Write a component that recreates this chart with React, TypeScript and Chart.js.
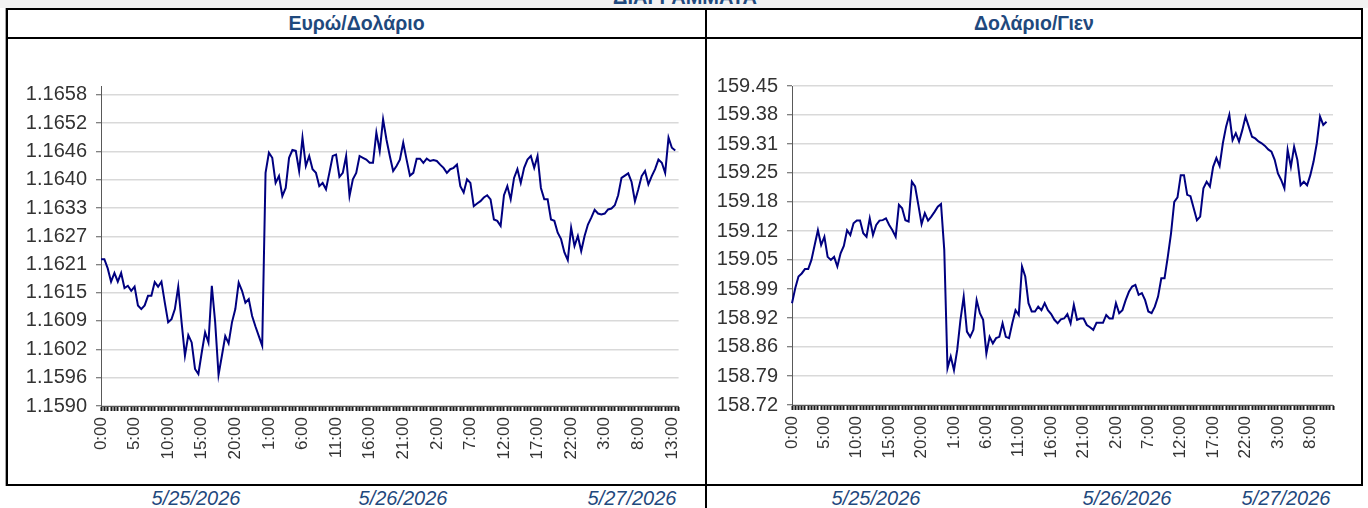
import React, { useEffect, useRef } from 'react';
import { Chart, registerables } from 'chart.js';

Chart.register(...registerables);

const FONT = "'Liberation Sans', Arial, sans-serif";
const LINE_COLOR = '#000080';
const TITLE_COLOR = '#1f497d';

// Euro / Dollar, half-hourly closes starting 5/25 0:00
const eurUsd = [
  1.16221, 1.16221, 1.16201, 1.16172, 1.16191, 1.16172, 1.16191, 1.16158, 1.16163, 1.16152,
  1.16161, 1.1612, 1.16112, 1.1612, 1.16141, 1.16141, 1.16171, 1.16161, 1.16172, 1.16126,
  1.16083, 1.1609, 1.16112, 1.16161, 1.16083, 1.1601, 1.16055, 1.16039, 1.15981, 1.1597,
  1.16017, 1.16061, 1.16039, 1.16163, 1.16083, 1.15968, 1.1601, 1.16053, 1.16037, 1.16083,
  1.16112, 1.1617, 1.16152, 1.16126, 1.16134, 1.16097, 1.16074, 1.16053, 1.16032, 1.1641,
  1.16454, 1.16443, 1.16388, 1.16403, 1.16359, 1.16377, 1.16443, 1.1646, 1.16458, 1.16414,
  1.16487, 1.16425, 1.16447, 1.16418, 1.1641, 1.16381, 1.16388, 1.16374, 1.1641, 1.16447,
  1.1645, 1.16401, 1.1641, 1.16447, 1.16359, 1.16396, 1.1641, 1.16447, 1.16443, 1.16439,
  1.16432, 1.16432, 1.16498, 1.16458, 1.16527, 1.16483, 1.16447, 1.16414, 1.16425, 1.16439,
  1.16476, 1.16439, 1.16404, 1.1641, 1.16441, 1.16441, 1.16432, 1.16441, 1.16436, 1.16438,
  1.16436, 1.16428, 1.16421, 1.1641, 1.16418, 1.16421, 1.16428, 1.16381, 1.16367, 1.16396,
  1.16388, 1.16337, 1.16343, 1.16348, 1.16356, 1.16361, 1.16352, 1.16308, 1.16305, 1.16294,
  1.16361, 1.16381, 1.16352, 1.16399, 1.16418, 1.16388, 1.16421, 1.16439, 1.16447, 1.16421,
  1.16447, 1.16377, 1.16352, 1.16352, 1.16308, 1.16305, 1.16279, 1.16265, 1.16236, 1.16219,
  1.1629, 1.1625, 1.16272, 1.16239, 1.16272, 1.16297, 1.16312, 1.16329, 1.16321, 1.16319,
  1.16321, 1.1633, 1.16332, 1.16339, 1.16361, 1.16399, 1.16404, 1.16409, 1.1639, 1.16348,
  1.16374, 1.16403, 1.16414, 1.16385, 1.16403, 1.16418, 1.16439, 1.16432, 1.1641, 1.16487,
  1.16465, 1.16459,
];

// Dollar / Yen, half-hourly closes starting 5/25 0:00
const usdJpy = [
  158.953, 158.987, 159.014, 159.021, 159.031, 159.031, 159.052, 159.086, 159.12, 159.086,
  159.105, 159.059, 159.052, 159.059, 159.037, 159.067, 159.084, 159.12, 159.109, 159.136,
  159.142, 159.142, 159.113, 159.105, 159.147, 159.109, 159.132, 159.142, 159.143, 159.147,
  159.132, 159.12, 159.105, 159.178, 159.17, 159.143, 159.14, 159.231, 159.22, 159.178,
  159.134, 159.159, 159.142, 159.151, 159.162, 159.174, 159.18, 159.075, 158.804, 158.831,
  158.8, 158.846, 158.915, 158.968, 158.888, 158.876, 158.892, 158.96, 158.93, 158.915,
  158.838, 158.876, 158.861, 158.873, 158.876, 158.907, 158.876, 158.873, 158.907, 158.937,
  158.926, 159.037, 159.014, 158.953, 158.934, 158.934, 158.945, 158.937, 158.953, 158.937,
  158.928, 158.915, 158.907, 158.916, 158.918, 158.928, 158.907, 158.949, 158.915, 158.918,
  158.918, 158.903, 158.898, 158.892, 158.908, 158.908, 158.908, 158.926, 158.918, 158.918,
  158.953, 158.93, 158.937, 158.96, 158.979, 158.991, 158.995, 158.972, 158.976, 158.96,
  158.934, 158.93, 158.945, 158.968, 159.01, 159.01, 159.059, 159.113, 159.185, 159.195,
  159.246, 159.246, 159.201, 159.198, 159.17, 159.143, 159.151, 159.216, 159.231, 159.22,
  159.265, 159.285, 159.267, 159.319, 159.357, 159.384, 159.326, 159.342, 159.323, 159.349,
  159.38, 159.357, 159.334, 159.33, 159.323, 159.319, 159.313, 159.305, 159.3, 159.281,
  159.25, 159.235, 159.216, 159.304, 159.265, 159.311, 159.281, 159.223, 159.231, 159.223,
  159.246, 159.277, 159.319, 159.38, 159.361, 159.368,
];

// y-axis tick labels (bottom to top) and where they sit
const eurTickLabels = ['1.1590', '1.1596', '1.1602', '1.1609', '1.1615', '1.1621', '1.1627', '1.1633', '1.1640', '1.1646', '1.1652', '1.1658'];
const eurTickValues = [1.159, 1.15962, 1.16024, 1.16086, 1.16148, 1.16209, 1.16271, 1.16333, 1.16395, 1.16457, 1.16519, 1.16581];
const jpyTickLabels = ['158.72', '158.79', '158.86', '158.92', '158.99', '159.05', '159.12', '159.18', '159.25', '159.31', '159.38', '159.45'];
const jpyTickValues = [158.72, 158.786, 158.853, 158.919, 158.985, 159.052, 159.118, 159.185, 159.251, 159.317, 159.384, 159.45];

const eurCategoryCount = 173;
const jpyCategoryCount = 168;

const eurDates = [
  { text: '5/25/2026', x: 196 },
  { text: '5/26/2026', x: 403 },
  { text: '5/27/2026', x: 632 },
];
const jpyDates = [
  { text: '5/25/2026', x: 876 },
  { text: '5/26/2026', x: 1127 },
  { text: '5/27/2026', x: 1286 },
];

function halfHourLabels(n: number): string[] {
  const out: string[] = [];
  for (let i = 0; i < n; i++) {
    const mins = i * 30;
    const h = Math.floor(mins / 60) % 24;
    const m = mins % 60;
    out.push(`${h}:${m === 0 ? '00' : '30'}`);
  }
  return out;
}

type Pad = { left: number; top: number; right: number; bottom: number };

function buildConfig(
  labels: string[],
  data: number[],
  tickValues: number[],
  tickLabels: string[],
  yMin: number,
  yMax: number,
  pad: Pad,
  yWidth: number,
  xHeight: number
): any {
  return {
    type: 'line',
    data: {
      labels,
      datasets: [
        {
          data,
          borderColor: LINE_COLOR,
          borderWidth: 2,
          pointRadius: 0,
          tension: 0,
          fill: false,
        },
      ],
    },
    options: {
      animation: false,
      responsive: false,
      maintainAspectRatio: false,
      layout: { padding: pad },
      plugins: { legend: { display: false }, tooltip: { enabled: false }, title: { display: false } },
      scales: {
        x: {
          type: 'category',
          grid: { drawOnChartArea: false, drawTicks: true, tickLength: 5, tickColor: '#1a1a1a', tickWidth: 2 },
          border: { color: '#595959', width: 1 },
          ticks: {
            autoSkip: false,
            maxRotation: 90,
            minRotation: 90,
            padding: 6,
            color: '#333333',
            font: { family: FONT, size: 17 },
            callback: (_v: any, i: number) => (i % 10 === 0 ? labels[i] : ''),
          },
          afterFit: (scale: any) => {
            scale.height = xHeight;
          },
        },
        y: {
          type: 'linear',
          min: yMin,
          max: yMax,
          afterBuildTicks: (scale: any) => {
            scale.ticks = tickValues.map((v) => ({ value: v }));
          },
          ticks: {
            padding: 9,
            color: '#333333',
            font: { family: FONT, size: 20 },
            callback: (_v: any, i: number) => tickLabels[i],
          },
          grid: { color: '#d9d9d9', lineWidth: 1.5, tickColor: '#595959', tickLength: 5, tickWidth: 1 },
          border: { color: '#595959', width: 1 },
          afterFit: (scale: any) => {
            scale.width = yWidth;
          },
        },
      },
    },
  };
}

function LineCanvas(props: { config: () => any; left: number; top: number; width: number; height: number }) {
  const ref = useRef<HTMLCanvasElement | null>(null);
  useEffect(() => {
    if (!ref.current) return;
    const chart = new Chart(ref.current, props.config());
    return () => chart.destroy();
  }, []);
  return (
    <canvas
      ref={ref}
      width={props.width}
      height={props.height}
      style={{ position: 'absolute', left: props.left, top: props.top, width: props.width, height: props.height, display: 'block' }}
    />
  );
}

export default function App() {
  const eurLabels = halfHourLabels(eurCategoryCount);
  const jpyLabels = halfHourLabels(jpyCategoryCount);

  const eurConfig = () =>
    buildConfig(eurLabels, eurUsd, eurTickValues, eurTickLabels, 1.159, 1.166, { left: 0, top: 47, right: 22, bottom: 0 }, 93, 78);
  const jpyConfig = () =>
    buildConfig(jpyLabels, usdJpy, jpyTickValues, jpyTickLabels, 158.72, 159.45, { left: 0, top: 47, right: 28, bottom: 0 }, 85, 79);

  const dateStyle = (x: number): React.CSSProperties => ({
    position: 'absolute',
    left: x,
    top: 487,
    transform: 'translateX(-50%)',
    fontFamily: FONT,
    fontStyle: 'italic',
    fontSize: 20,
    lineHeight: '22px',
    color: TITLE_COLOR,
    whiteSpace: 'nowrap',
  });

  const headerStyle = (left: number, width: number): React.CSSProperties => ({
    position: 'absolute',
    left,
    top: 10,
    width,
    height: 27,
    display: 'flex',
    alignItems: 'center',
    justifyContent: 'center',
    fontFamily: FONT,
    fontWeight: 'bold',
    fontSize: 19.5,
    color: TITLE_COLOR,
  });

  return (
    <div
      style={{
        position: 'absolute',
        left: 0,
        top: 0,
        width: 1368,
        height: 508,
        overflow: 'hidden',
        background: '#ffffff',
      }}
    >
      <div style={{ position: 'absolute', left: 0, top: 0, width: 1368, height: 8, background: '#f2f2f2' }} />
      <div
        style={{
          position: 'absolute',
          left: 0,
          top: -13,
          width: 1370,
          textAlign: 'center',
          fontFamily: FONT,
          fontWeight: 'bold',
          fontSize: 20,
          lineHeight: '20px',
          color: TITLE_COLOR,
        }}
      >
        ΔΙΑΓΡΑΜΜΑΤΑ
      </div>
      <div style={{ position: 'absolute', left: 5, top: 8, width: 1, height: 478, background: '#a6a6a6' }} />
      <div
        style={{
          position: 'absolute',
          left: 6,
          top: 8,
          width: 1357,
          height: 478,
          border: '2px solid #000',
          boxSizing: 'border-box',
        }}
      />
      <div style={{ position: 'absolute', left: 6, top: 37, width: 1357, height: 2, background: '#000' }} />
      <div style={{ position: 'absolute', left: 705, top: 8, width: 2, height: 500, background: '#000' }} />

      <div style={headerStyle(8, 697)}>Ευρώ/Δολάριο</div>
      <div style={headerStyle(707, 654)}>Δολάριο/Γιεν</div>

      <LineCanvas config={eurConfig} left={8} top={39} width={697} height={445} />
      <LineCanvas config={jpyConfig} left={707} top={39} width={654} height={445} />

      {eurDates.map((d) => (
        <div key={'e' + d.text} style={dateStyle(d.x)}>
          {d.text}
        </div>
      ))}
      {jpyDates.map((d) => (
        <div key={'j' + d.text} style={dateStyle(d.x)}>
          {d.text}
        </div>
      ))}
    </div>
  );
}
